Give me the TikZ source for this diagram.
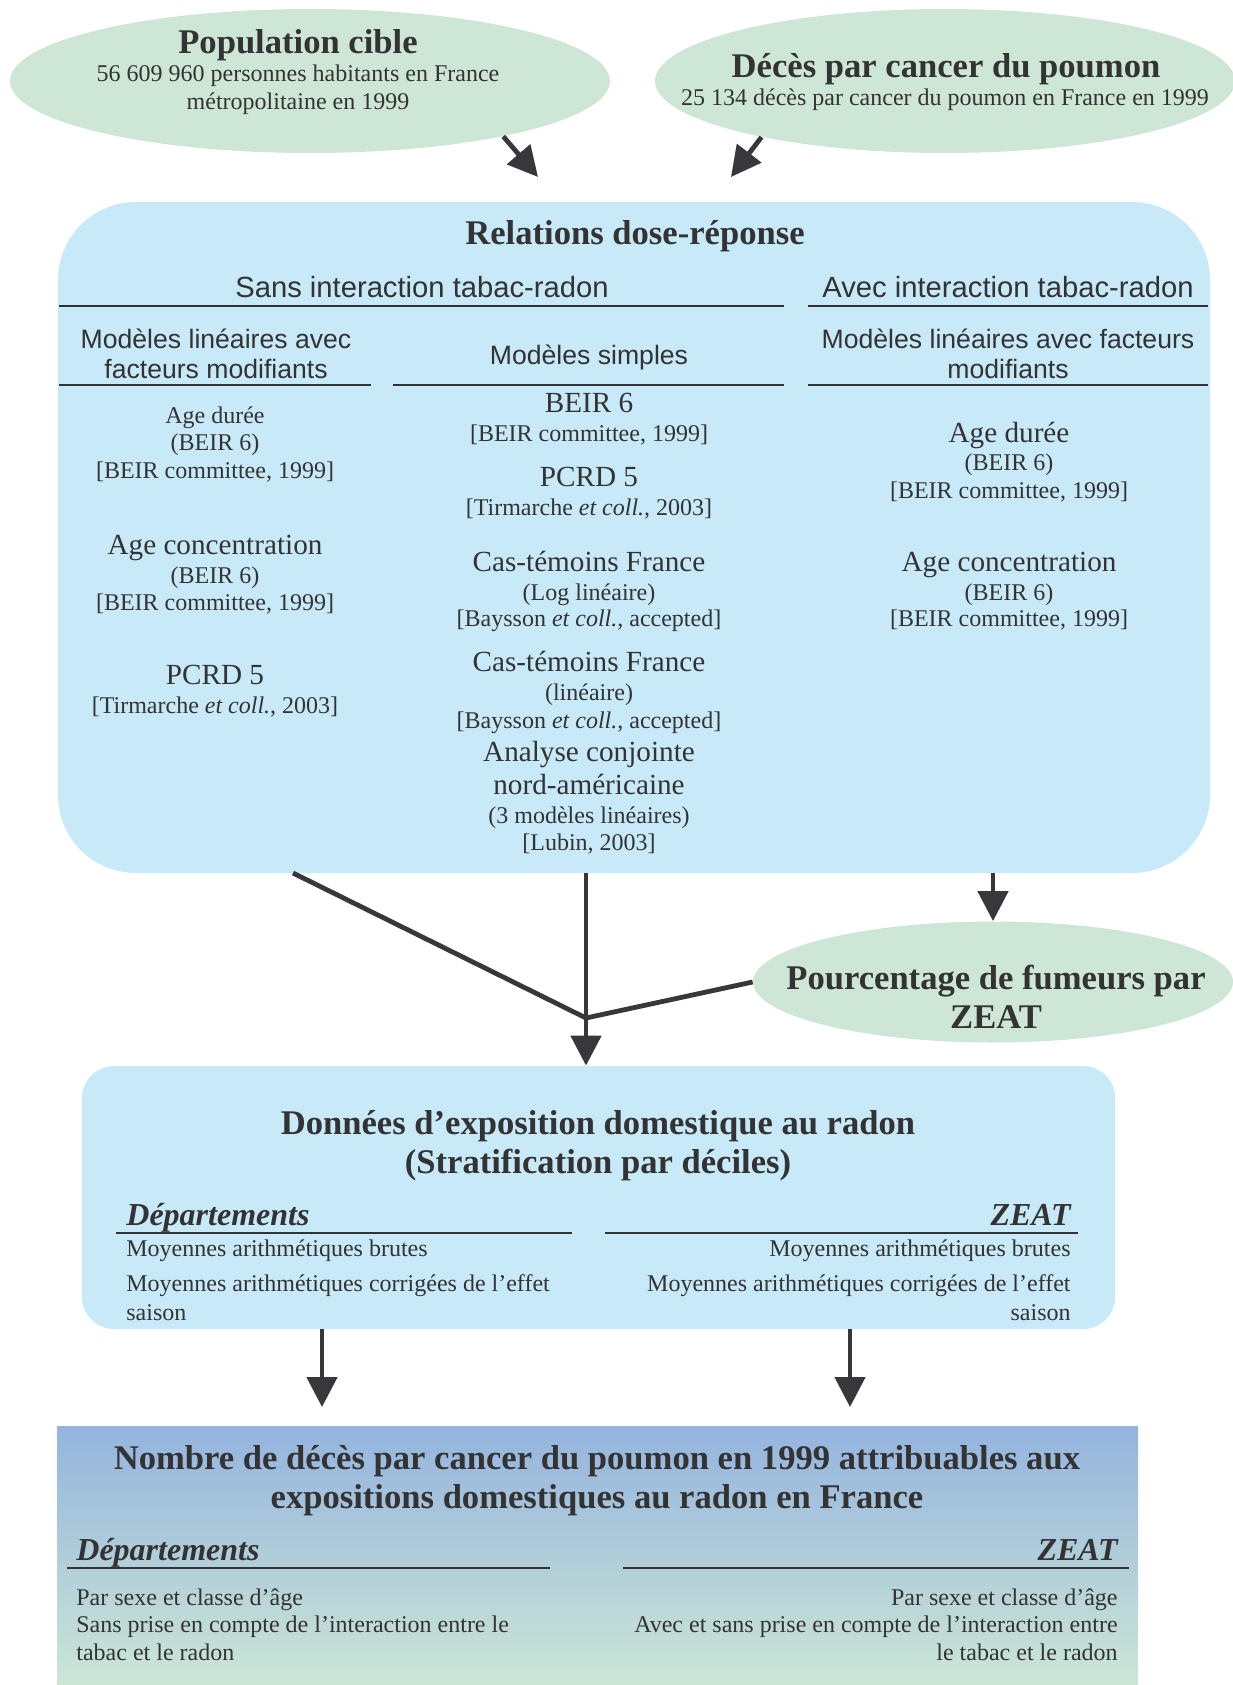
\documentclass[tikz,border=0pt]{standalone}
\usepackage{fontspec}
\setmainfont{Liberation Serif}
\setsansfont{Liberation Sans}
\usetikzlibrary{shapes.geometric,arrows.meta}
\definecolor{ellg}{HTML}{CDE6D6}
\definecolor{boxb}{HTML}{C7E9F8}
\definecolor{ink}{HTML}{333333}
\definecolor{arrc}{HTML}{38373C}
\definecolor{gtop}{HTML}{94B4DF}
\definecolor{gbot}{HTML}{CCE6D5}
\begin{document}
\begin{tikzpicture}[x=0.5pt,y=-0.5pt,
  ell/.style={ellipse, fill=ellg, inner sep=0pt},
  ts/.style={text=ink, font=\fontsize{12}{14}\selectfont, inner sep=0pt, text height=8.5pt, text depth=2.6pt, yshift=-1.4pt},
  tl/.style={text=ink, font=\fontsize{14.6}{17}\selectfont, inner sep=0pt, text height=10.3pt, text depth=3.2pt, yshift=-1.4pt},
  tb/.style={text=ink, font=\bfseries\fontsize{17.3}{20}\selectfont, inner sep=0pt, text height=12.2pt, text depth=3.8pt, yshift=-1.4pt},
  tbi/.style={text=ink, font=\bfseries\itshape\fontsize{16}{19}\selectfont, inner sep=0pt, text height=11.3pt, text depth=3.5pt, yshift=-1.4pt},
  th/.style={text=ink, font=\sffamily\fontsize{14.6}{17}\selectfont, inner sep=0pt, text height=10.5pt, text depth=3.1pt, yshift=-1.4pt},
  tm/.style={text=ink, font=\sffamily\fontsize{13.3}{16}\selectfont, inner sep=0pt, text height=9.6pt, text depth=2.8pt, yshift=-1.4pt},
  rule/.style={draw=ink, line width=1.1pt},
  conn/.style={draw=arrc, line width=2.4pt},
  arr/.style={conn, -{Triangle[length=15pt,width=15pt]}},
]
\useasboundingbox (0,0) rectangle (1232,1685);

% ---------- shapes ----------
\node[ell, minimum width=300pt, minimum height=72pt] (pop) at (310,81) {};
\node[ell, minimum width=290pt, minimum height=72pt] (dec) at (945,81) {};
\node[fill=boxb, rounded corners=39pt, minimum width=576pt, minimum height=335.5pt, inner sep=0pt] (rel) at (634,537.5) {};
\node[ell, minimum width=240pt, minimum height=60.5pt] (pct) at (993,982) {};
\node[fill=boxb, rounded corners=16pt, minimum width=516.5pt, minimum height=131.5pt, inner sep=0pt] (don) at (598.5,1197.5) {};
\node[top color=gtop, bottom color=gbot, minimum width=540.5pt, minimum height=129.5pt, inner sep=0pt] (nb) at (597.5,1555.5) {};

% ---------- ellipse texts ----------
\node[tb] (e1) at (298,42) {Population cible};
\node[ts] (e2) at (298,73) {56 609 960 personnes habitants en France};
\node[ts] (e3) at (298,101) {métropolitaine en 1999};
\node[tb] (e4) at (946,66) {Décès par cancer du poumon};
\node[ts] (e5) at (945,97) {25 134 décès par cancer du poumon en France en 1999};

% ---------- relations box ----------
\node[tb] (r0) at (635,233) {Relations dose-réponse};
\node[th] (r1) at (422,287) {Sans interaction tabac-radon};
\node[th] (r2) at (1008,287) {Avec interaction tabac-radon};
\node[tm] (r3) at (216,339) {Modèles linéaires avec};
\node[tm] (r4) at (216,369) {facteurs modifiants};
\node[tm] (r5) at (589,355) {Modèles simples};
\node[tm] (r6) at (1008,339) {Modèles linéaires avec facteurs};
\node[tm] (r7) at (1008,369) {modifiants};
\draw[rule] (59,306) -- (784,306);
\draw[rule] (808,306) -- (1208,306);
\draw[rule] (59,385) -- (371,385);
\draw[rule] (393,385) -- (784,385);
\draw[rule] (808,385) -- (1208,385);

% left column
\node[ts] (a1) at (215,415) {Age durée};
\node[ts] (a2) at (215,442) {(BEIR 6)};
\node[ts] (a3) at (215,470) {[BEIR committee, 1999]};
\node[tl] (a4) at (215,545) {Age concentration};
\node[ts] (a5) at (215,575) {(BEIR 6)};
\node[ts] (a6) at (215,602) {[BEIR committee, 1999]};
\node[tl] (a7) at (215,675) {PCRD 5};
\node[ts] (a8) at (215,705) {[Tirmarche \textit{et coll.}, 2003]};

% middle column
\node[tl] (m1) at (589,403) {BEIR 6};
\node[ts] (m2) at (589,433) {[BEIR committee, 1999]};
\node[tl] (m3) at (589,477) {PCRD 5};
\node[ts] (m4) at (589,507) {[Tirmarche \textit{et coll.}, 2003]};
\node[tl] (m5) at (589,562) {Cas-témoins France};
\node[ts] (m6) at (589,592) {(Log linéaire)};
\node[ts] (m7) at (589,618) {[Baysson \textit{et coll.}, accepted]};
\node[tl] (m8) at (589,662) {Cas-témoins France};
\node[ts] (m9) at (589,692) {(linéaire)};
\node[ts] (m10) at (589,720) {[Baysson \textit{et coll.}, accepted]};
\node[tl] (m11) at (589,752) {Analyse conjointe};
\node[tl] (m12) at (589,785) {nord-américaine};
\node[ts] (m13) at (589,815) {(3 modèles linéaires)};
\node[ts] (m14) at (589,842) {[Lubin, 2003]};

% right column
\node[tl] (c1) at (1009,433) {Age durée};
\node[ts] (c2) at (1009,462) {(BEIR 6)};
\node[ts] (c3) at (1009,490) {[BEIR committee, 1999]};
\node[tl] (c4) at (1009,562) {Age concentration};
\node[ts] (c5) at (1009,592) {(BEIR 6)};
\node[ts] (c6) at (1009,618) {[BEIR committee, 1999]};

% ---------- pourcentage ----------
\node[tb] (f1) at (996,978) {Pourcentage de fumeurs par};
\node[tb] (f2) at (996,1017) {ZEAT};

% ---------- donnees box ----------
\node[tb] (d1) at (598,1123) {Données d’exposition domestique au radon};
\node[tb] (d2) at (598,1162) {(Stratification par déciles)};
\node[tbi, anchor=west] (d3) at (126,1215) {Départements};
\node[tbi, anchor=east] (d4) at (1071,1215) {ZEAT};
\draw[rule] (116,1233) -- (572,1233);
\draw[rule] (605,1233) -- (1078,1233);
\node[ts, anchor=west] (d5) at (126,1248) {Moyennes arithmétiques brutes};
\node[ts, anchor=west] (d6) at (126,1283) {Moyennes arithmétiques corrigées de l’effet};
\node[ts, anchor=west] (d7) at (126,1312) {saison};
\node[ts, anchor=east] (d8) at (1071,1248) {Moyennes arithmétiques brutes};
\node[ts, anchor=east] (d9) at (1071,1283) {Moyennes arithmétiques corrigées de l’effet};
\node[ts, anchor=east] (d10) at (1071,1312) {saison};

% ---------- bottom box ----------
\node[tb] (n1) at (597,1458) {Nombre de décès par cancer du poumon en 1999 attribuables aux};
\node[tb] (n2) at (597,1497) {expositions domestiques au radon en France};
\node[tbi, anchor=west] (n3) at (76,1550) {Départements};
\node[tbi, anchor=east] (n4) at (1118,1550) {ZEAT};
\draw[rule] (67,1568) -- (550,1568);
\draw[rule] (623,1568) -- (1129,1568);
\node[ts, anchor=west] (n5) at (76,1597) {Par sexe et classe d’âge};
\node[ts, anchor=west] (n6) at (76,1624) {Sans prise en compte de l’interaction entre le};
\node[ts, anchor=west] (n7) at (76,1652) {tabac et le radon};
\node[ts, anchor=east] (n8) at (1118,1597) {Par sexe et classe d’âge};
\node[ts, anchor=east] (n9) at (1118,1624) {Avec et sans prise en compte de l’interaction entre};
\node[ts, anchor=east] (n10) at (1118,1652) {le tabac et le radon};

% ---------- connectors ----------
\coordinate (p1) at (538,177);
\coordinate (p2) at (731,177);
\coordinate (dg) at (293,873);
\coordinate (j) at (586,1018);
\coordinate (b1) at (322,1407);
\coordinate (b2) at (850,1407);
\draw[arr] (pop.-16) -- (p1);
\draw[arr] (dec.-163) -- (p2);
\draw[arr] (rel.south -| pct.north) -- (pct.north);
\draw[conn] (dg) -- (j);
\draw[conn] (rel.south -| j) -- (j);
\draw[conn] (pct.west) -- (j);
\draw[arr] (j) -- (don.north -| j);
\draw[arr] (don.south -| b1) -- (b1);
\draw[arr] (don.south -| b2) -- (b2);
\end{tikzpicture}
\end{document}
